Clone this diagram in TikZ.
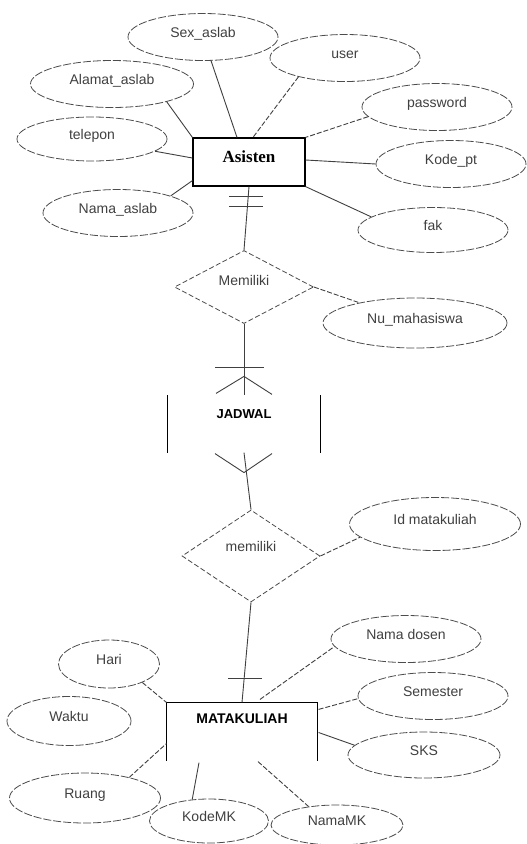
\documentclass[tikz,border=0pt]{standalone}
\usepackage{fontspec}
\setmainfont{Liberation Sans}
\newfontfamily\asfont{Liberation Serif}
\usetikzlibrary{shapes.geometric,calc}

\begin{document}
\begin{tikzpicture}[x=1pt, y=-1pt,
    attr/.style={ellipse, draw=black!70, line width=.8pt, dash pattern=on 8pt off 2pt,
        inner sep=0pt, minimum width=150pt, minimum height=47pt,
        text height=8pt, text depth=8pt, text=black!75, font=\fontsize{14}{16}\selectfont},
    rel/.style={diamond, draw=black!70, line width=.8pt, dash pattern=on 5pt off 2.5pt,
        inner sep=0pt, text=black!75, font=\fontsize{14}{16}\selectfont},
    ent/.style={rectangle, draw, line width=1.2pt, inner sep=0pt,
        font=\bfseries\fontsize{14}{16}\selectfont},
    link/.style={draw=black!75, line width=.9pt},
    dlink/.style={link, dash pattern=on 5pt off 2pt}]
    \fill[white] (0,0) rectangle (527,844);
    \useasboundingbox (0,0) rectangle (527,844);

    \node[ent, font=\asfont\bfseries\fontsize{17}{19}\selectfont, text height=6pt, text depth=6pt,
        minimum width=112pt, minimum height=48pt] (asisten) at (249,162) {Asisten};
    \node[attr] (sex) at (203,37) {Sex\_aslab};
    \node[attr] (user) at (345,58) {user};
    \node[attr, minimum width=163pt] (alamat) at (112,84) {Alamat\_aslab};
    \node[attr] (pass) at (437,107) {password};
    \node[attr, minimum height=44pt] (telp) at (92,139) {telepon};
    \node[attr] (kode) at (451,164) {Kode\_pt};
    \node[attr] (nama) at (118,213) {Nama\_aslab};
    \node[attr, minimum height=45pt] (fak) at (433,230) {fak};

    \draw[link] (sex) -- ($(asisten.north)+(-12,0)$);
    \draw[dlink] (user.202) -- ($(asisten.north)+(4,0)$);
    \draw[link] (alamat.-18) -- (asisten.north west);
    \draw[link] (telp.-11) -- ($(asisten.west)+(0,-4)$);
    \draw[link] (nama.18) -- ($(asisten.south west)+(0,-6)$);
    \draw[dlink] (pass.188) -- (asisten.north east);
    \draw[link] ($(asisten.east)+(0,-2)$) -- (kode.west);
    \draw[link] (asisten.south east) -- (fak.168);

    \node[rel, minimum width=139pt, minimum height=73pt, text height=6pt, text depth=9pt]
        (mem1) at (244,287) {Memiliki};
    \node[attr, minimum width=184pt, minimum height=50pt] (nomhs) at (415,323) {Nu\_mahasiswa};
    \draw[link] (asisten.south) -- (mem1.north);
    \draw[link] ($(asisten.south)+(-20,10)$) -- ++(34,0);
    \draw[link] ($(asisten.south)+(-20,20)$) -- ++(34,0);
    \draw[dlink] (mem1.east) -- (nomhs.160);

    \node[ent, draw=none, font=\bfseries\fontsize{13}{15}\selectfont, minimum width=152pt,
        minimum height=56pt, text height=4pt, text depth=16pt] (jadwal) at (244,424) {JADWAL};
    \draw[line width=1.2pt] (jadwal.north west) -- (jadwal.south west);
    \draw[line width=1.2pt] (jadwal.north east) -- (jadwal.south east);
    \draw[link] (mem1.south) -- (jadwal.north);
    \draw[link] ($(jadwal.north)+(-29,-28)$) -- ++(49,0);
    \draw[link] ($(jadwal.north)+(-28,-2)$) -- ($(jadwal.north)+(0,-19)$) -- ($(jadwal.north)+(28,-1)$);

    \node[rel, minimum width=138pt, minimum height=92pt, text height=5pt, text depth=14pt]
        (mem2) at (251,556) {memiliki};
    \node[attr, minimum width=171pt, minimum height=53pt] (idmk) at (435,524) {Id matakuliah};
    \draw[link] (jadwal.south) -- (mem2.north);
    \draw[link] ($(jadwal.south)+(-29,1)$) -- ($(jadwal.south)+(0,20)$) -- ($(jadwal.south)+(28,1)$);
    \draw[dlink] (mem2.east) -- (idmk.190);

    \node[ent, draw=none, minimum width=150pt, minimum height=57pt, text height=3pt,
        text depth=20pt] (matkul) at (242,731.5) {MATAKULIAH};
    \draw[line width=1.2pt] (matkul.south west) -- (matkul.north west) -- (matkul.north east) -- (matkul.south east);
    \draw[link] (mem2.south) -- (matkul.north);
    \draw[link] ($(matkul.north)+(-14,-24)$) -- ++(34,0);

    \node[attr, minimum width=101pt, minimum height=48pt] (hari) at (109,664) {Hari};
    \node[attr, minimum width=124pt, minimum height=49pt] (waktu) at (69,721) {Waktu};
    \node[attr, minimum width=151pt, minimum height=50pt] (ruang) at (85,798) {Ruang};
    \node[attr, minimum width=119pt, minimum height=44pt] (kodemk) at (209,821) {KodeMK};
    \node[attr, minimum width=132pt, minimum height=40pt] (namamk) at (337,825) {NamaMK};
    \node[attr] (dosen) at (406,639) {Nama dosen};
    \node[attr] (sem) at (433,696) {Semester};
    \node[attr, minimum width=152pt, minimum height=46pt] (sks) at (424,755) {SKS};

    \draw[dlink] (hari.-29) -- (matkul.north west);
    \draw[dlink] (ruang.25) -- ($(matkul.south west)+(0,-17)$);
    \draw[link] ($(matkul.south)+(-43,2)$) -- (kodemk.128);
    \draw[dlink] ($(matkul.south)+(16,1)$) -- (namamk.147);
    \draw[dlink] ($(matkul.north)+(18,-3)$) -- (dosen.186);
    \draw[dlink] ($(matkul.north east)+(1,7)$) -- (sem.182);
    \draw[link] ($(matkul.east)+(1,1)$) -- (sks.172);
\end{tikzpicture}
\end{document}
